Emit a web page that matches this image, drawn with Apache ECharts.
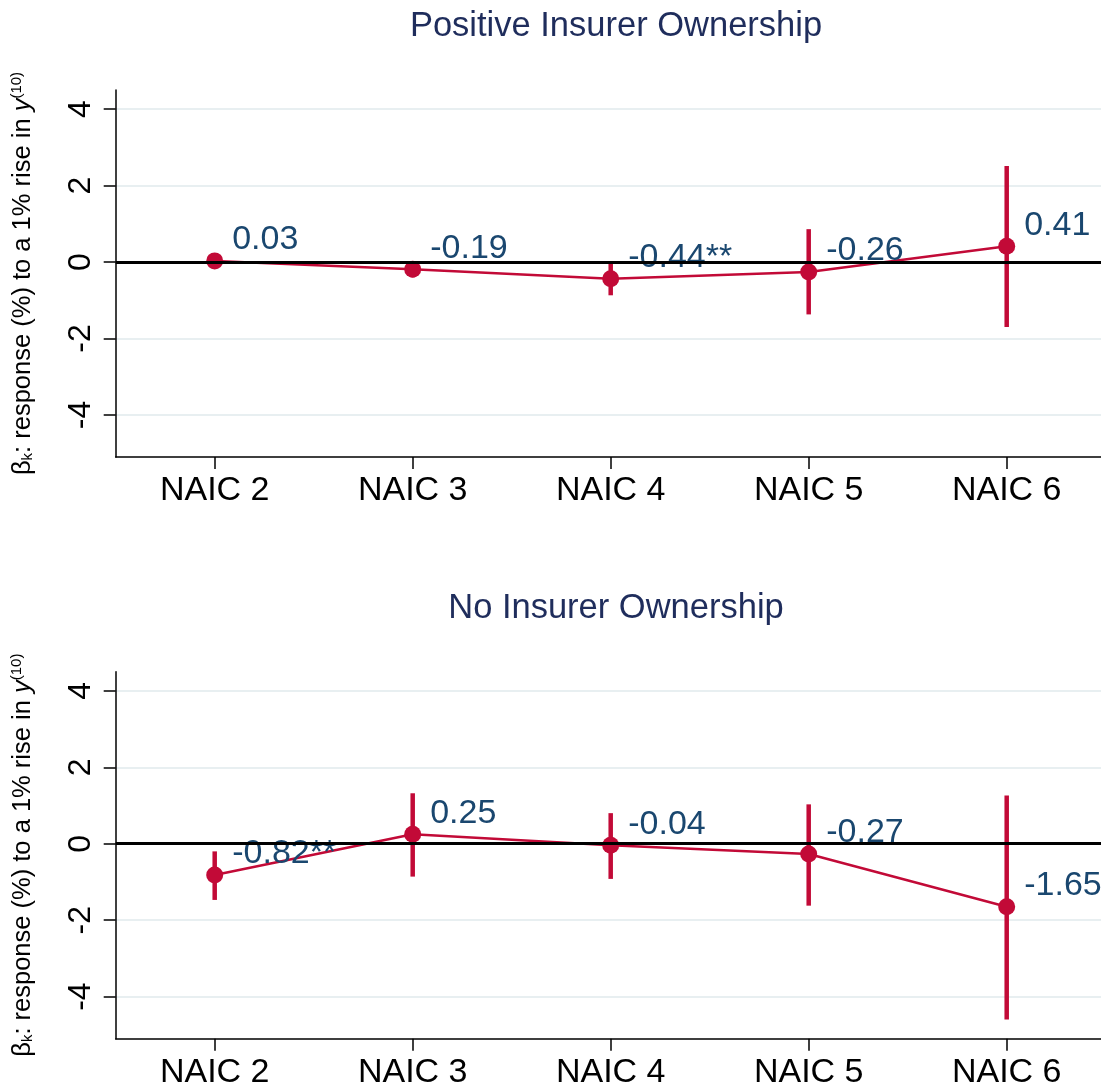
<!DOCTYPE html>
<html>
<head>
<meta charset="utf-8">
<title>Response by NAIC class</title>
<script src="https://cdn.jsdelivr.net/npm/echarts@6/dist/echarts.min.js"></script>
<style>
  html, body { margin: 0; padding: 0; background: #ffffff; }
  #chart { width: 1101px; height: 1091px; }
</style>
</head>
<body>
<div id="chart"></div>
<script>
// Categories and tick labels
const categories = ['NAIC 2', 'NAIC 3', 'NAIC 4', 'NAIC 5', 'NAIC 6'];
const yTicks = [-4, -2, 0, 2, 4];
const panelTitles = ['Positive Insurer Ownership', 'No Insurer Ownership'];

// Positive insurer ownership: point estimates, significance stars, 95% CI
const posEst = [0.03, -0.19, -0.44, -0.26, 0.41];
const posStars = ['', '', '**', '', ''];
const posLo = [-0.06, -0.40, -0.87, -1.37, -1.70];
const posHi = [0.12, 0.02, -0.03, 0.86, 2.51];

// No insurer ownership: point estimates, significance stars, 95% CI
const negEst = [-0.82, 0.25, -0.04, -0.27, -1.65];
const negStars = ['**', '', '', '', ''];
const negLo = [-1.47, -0.86, -0.92, -1.62, -4.60];
const negHi = [-0.20, 1.32, 0.80, 1.03, 1.26];

const FONT = '"Liberation Sans", Arial, Helvetica, sans-serif';
const RED = '#c20a37';
const NAVY = '#1a476f';
const TITLE = '#1f2d5c';
const GRIDC = '#e8eff1';

const panels = [
  { est: posEst, stars: posStars, lo: posLo, hi: posHi, top: 90 },
  { est: negEst, stars: negStars, lo: negLo, hi: negHi, top: 671.7 }
];
const PLOT_H = 367;
const PLOT_LEFT = 115.7;
// category slots are 198px wide; the plot runs up to the right edge of the canvas
const X_MIN = -0.5;
const X_MAX = X_MIN + (1101 - PLOT_LEFT) / 198;
const catIdx = categories.map((c, i) => i);

function errorBars(lo, hi) {
  return lo.map((v, i) => [i, v, hi[i]]);
}

const option = {
  animation: false,
  backgroundColor: '#ffffff',
  title: panels.map((p, k) => ({
    text: panelTitles[k],
    left: 611,
    textAlign: 'center',
    top: p.top - 86,
    textStyle: { fontFamily: FONT, fontSize: 34.5, fontWeight: 'normal', color: TITLE }
  })),
  grid: panels.map(p => ({
    left: PLOT_LEFT, top: p.top, right: 0, height: PLOT_H, containLabel: false
  })),
  xAxis: panels.map((p, k) => ({
    type: 'value',
    gridIndex: k,
    min: X_MIN,
    max: X_MAX,
    axisLine: { show: true, onZero: false, lineStyle: { color: '#000', width: 1.5 } },
    axisTick: { show: true, length: 12, customValues: catIdx, lineStyle: { color: '#000', width: 1.5 } },
    axisLabel: {
      customValues: catIdx,
      formatter: v => categories[Math.round(v)],
      fontFamily: FONT, fontSize: 34, color: '#000', margin: 17
    },
    splitLine: { show: false }
  })),
  yAxis: panels.map((p, k) => ({
    type: 'value',
    gridIndex: k,
    min: -5.1,
    max: 4.5,
    axisLine: { show: true, onZero: false, lineStyle: { color: '#000', width: 1.5 } },
    axisTick: { show: true, length: 12, customValues: yTicks, lineStyle: { color: '#000', width: 1.5 } },
    axisLabel: {
      customValues: yTicks,
      rotate: 90,
      margin: 19,
      fontFamily: FONT, fontSize: 32, color: '#000'
    },
    splitLine: { show: true, lineStyle: { color: GRIDC, width: 2 } },
    name: '{t|β}{sub|k}{t|: response (%) to a 1% rise in }{it|y}{sup|(10)}',
    nameLocation: 'middle',
    nameRotate: 90,
    nameGap: 80,
    nameTextStyle: {
      fontFamily: FONT, fontSize: 25.5, color: '#000',
      rich: {
        t: { fontFamily: FONT, fontSize: 25.5, color: '#000' },
        it: { fontFamily: FONT, fontSize: 25.5, fontStyle: 'italic', color: '#000' },
        sub: { fontFamily: FONT, fontSize: 15, color: '#000', verticalAlign: 'bottom' },
        sup: { fontFamily: FONT, fontSize: 15, color: '#000', verticalAlign: 'top' }
      }
    }
  })),
  series: []
};

panels.forEach((p, k) => {
  // zero reference line
  option.series.push({
    type: 'line',
    xAxisIndex: k, yAxisIndex: k,
    data: [],
    z: 1,
    silent: true,
    markLine: {
      symbol: 'none',
      silent: true,
      label: { show: false },
      lineStyle: { color: '#000', width: 3, type: 'solid' },
      data: [{ yAxis: 0 }]
    }
  });
  // confidence intervals
  option.series.push({
    type: 'custom',
    xAxisIndex: k, yAxisIndex: k,
    z: 3,
    encode: { x: 0, y: [1, 2] },
    data: errorBars(p.lo, p.hi),
    renderItem: function (params, api) {
      const a = api.coord([api.value(0), api.value(1)]);
      const b = api.coord([api.value(0), api.value(2)]);
      return {
        type: 'line',
        shape: { x1: a[0], y1: a[1], x2: b[0], y2: b[1] },
        style: { stroke: RED, lineWidth: 4.5 }
      };
    }
  });
  // point estimates
  option.series.push({
    type: 'line',
    xAxisIndex: k, yAxisIndex: k,
    z: 4,
    data: p.est.map((v, i) => [i, v]),
    symbol: 'circle',
    symbolSize: 17,
    showAllSymbol: true,
    lineStyle: { color: RED, width: 2.5 },
    itemStyle: { color: RED },
    label: {
      show: true,
      position: 'right',
      distance: 9,
      offset: [0, -21],
      fontFamily: FONT,
      fontSize: 34,
      color: NAVY,
      formatter: function (d) { return d.value[1].toFixed(2) + p.stars[d.dataIndex]; }
    }
  });
});

const chart = echarts.init(document.getElementById('chart'), null, { renderer: 'canvas' });
chart.setOption(option);
</script>
</body>
</html>
